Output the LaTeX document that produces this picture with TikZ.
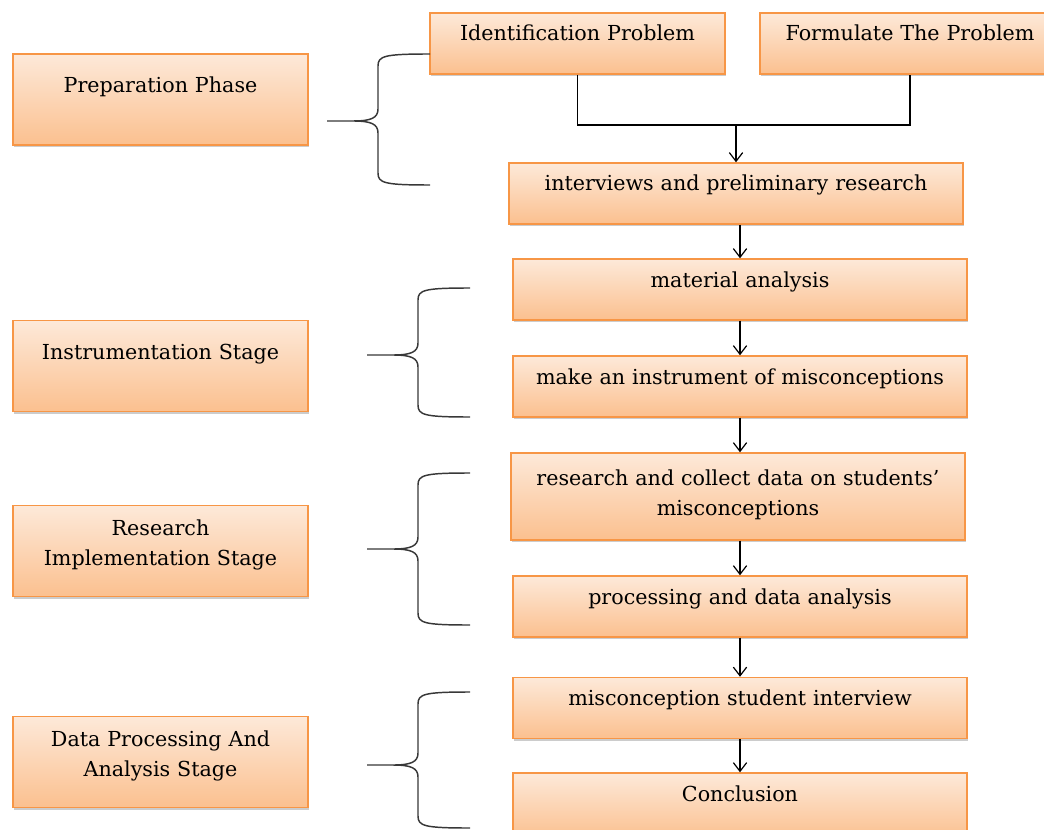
\documentclass[tikz,border=0pt]{standalone}
\usepackage{fontspec}
\setmainfont{DejaVu Serif}
\usetikzlibrary{arrows.meta,shadows}

\definecolor{boxline}{HTML}{F79646}
\definecolor{boxtop}{HTML}{FDE9D9}
\definecolor{boxbot}{HTML}{FBC08F}
\definecolor{bracegray}{HTML}{383838}

\tikzset{
  stepbox/.style={draw=boxline, line width=1.1pt, top color=boxtop, bottom color=boxbot,
    drop shadow={shadow xshift=1pt, shadow yshift=-1.8pt, opacity=0.4},
    minimum width=340.5pt, text width=330.5pt, align=center, inner xsep=5pt, inner ysep=0pt,
    text height=21pt, text depth=24.75pt, font=\fontsize{15.5}{22.5}\selectfont},
  phasebox/.style={stepbox, minimum width=221.25pt, text width=211.25pt,
    text height=29.25pt, text depth=39pt},
  arr/.style={-{Straight Barb[length=6.5pt,width=10pt]}, line width=0.9pt},
  brace/.style={bracegray, line width=1.1pt, line join=round}
}

% tip x, tip y, top y, bottom y
\newcommand{\grpbrace}[4]{%
  \draw[brace] ({#1+103},#3) .. controls ({#1+57},#3) and ({#1+51},{#3+2}) .. ({#1+51},{#3+12})
    -- ({#1+51},{#2-12}) .. controls ({#1+51},{#2-3}) and ({#1+44},#2) .. ({#1+26},#2)
    .. controls ({#1+44},#2) and ({#1+51},{#2+3}) .. ({#1+51},{#2+12})
    -- ({#1+51},{#4-12}) .. controls ({#1+51},{#4-2}) and ({#1+57},#4) .. ({#1+103},#4)
    ({#1+26},#2) -- (#1,#2);}

\begin{document}
\begin{tikzpicture}[x=0.75pt, y=-0.75pt]
\useasboundingbox (0,0) rectangle (1044,830);

\node[phasebox] (prep) at (160.5,99.5) {Preparation Phase};
\node[phasebox] (instrstage) at (160.5,366) {Instrumentation Stage};
\node[phasebox, text height=22.5pt, text depth=45.75pt] (implstage) at (160.5,551) {Research\\Implementation Stage};
\node[phasebox, text height=22.5pt, text depth=45.75pt] (datastage) at (160.5,762) {Data Processing And\\Analysis Stage};

\node[stepbox, minimum width=221.25pt, text width=211.25pt] (ident) at (577.5,43.5) {Identification Problem};
\node[stepbox, minimum width=225pt, text width=215pt] (formul) at (910,43.5) {Formulate The Problem};
\node[stepbox] (interv) at (736,193.5) {interviews and preliminary research};
\node[stepbox] (matana) at (740,289.5) {material analysis};
\node[stepbox] (instr) at (740,386.5) {make an instrument of misconceptions};
\node[stepbox, text height=24pt, text depth=41.25pt] (research) at (738,496.5) {research and collect data on students'\\misconceptions};
\node[stepbox] (process) at (740,606.5) {processing and data analysis};
\node[stepbox] (interview) at (740,708) {misconception student interview};
\node[stepbox, text height=21pt, text depth=28.5pt] (concl) at (740,806) {Conclusion};

\coordinate (merge) at (interv.north |- 0,125);
\draw[line width=0.9pt] (ident.south) |- (merge) -| (formul.south);
\draw[arr] (merge) -- (interv.north);
\draw[arr] (interv.south -| matana.north) -- (matana.north);
\draw[arr] (matana.south) -- (instr.north);
\draw[arr] (instr.south) -- (instr.south |- research.north);
\draw[arr] (research.south -| process.north) -- (process.north);
\draw[arr] (process.south) -- (interview.north);
\draw[arr] (interview.south) -- (concl.north);

\grpbrace{327}{121}{54}{185}
\grpbrace{367}{355}{288}{417}
\grpbrace{367}{549}{473}{625}
\grpbrace{367}{765}{692}{828}
\end{tikzpicture}
\end{document}
